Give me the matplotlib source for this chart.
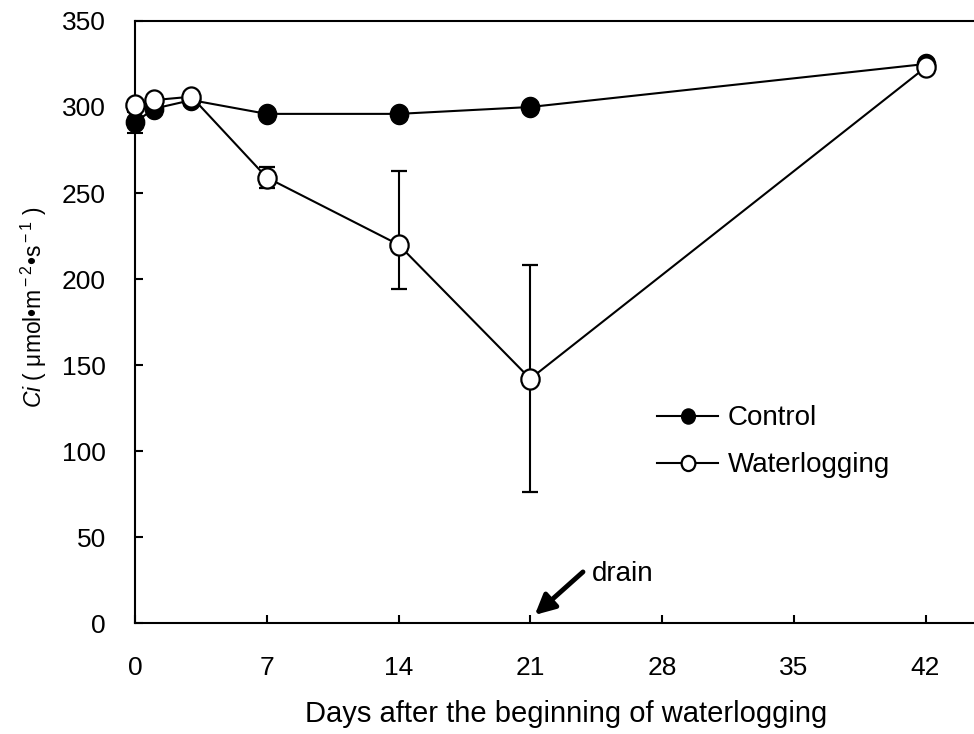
#!/usr/bin/env python

import numpy as np
import matplotlib
matplotlib.use("Agg")
from matplotlib import pyplot as plt
from matplotlib.path import Path
from matplotlib.transforms import Affine2D

""" Ci over days of waterlogging """

days = [0, 1, 3, 7, 14, 21, 42]
control = [291, 299, 304, 296, 296, 300, 325]
control_err = [6, 3, 3, 2, 2, 2, 2]
water = [301, 304, 306, 259, 220, 142, 323]
water_err_lo = [3, 3, 3, 6, 26, 66, 2]
water_err_hi = [3, 3, 3, 6, 43, 66, 2]

xticks = [0, 7, 14, 21, 28, 35, 42]
yticks = [0, 50, 100, 150, 200, 250, 300, 350]

plt.rcParams['font.family'] = ['Liberation Sans', 'DejaVu Sans']
plt.rcParams['mathtext.fontset'] = 'custom'
plt.rcParams['mathtext.rm'] = 'Liberation Sans'
plt.rcParams['mathtext.it'] = 'Liberation Sans:italic'

# slightly tall circle like the original
oval = Path.unit_circle().transformed(Affine2D().scale(1.0, 1.1))

fig = plt.figure(figsize=(9.74, 7.34), dpi=100)
ax = fig.add_axes([0.1386, 0.1512, 0.8696, 0.8202])

c = ax.errorbar(days, control, yerr=control_err, color='black', lw=1.5,
                marker=oval, ms=14.5, mfc='black', mec='black',
                capsize=6, elinewidth=1.5, capthick=1.5, label='Control', zorder=3)
w = ax.errorbar(days, water, yerr=[water_err_lo, water_err_hi], color='black', lw=1.5,
                marker=oval, ms=14.5, mfc='white', mec='black', mew=1.6,
                capsize=6, elinewidth=1.5, capthick=1.5, label='Waterlogging', zorder=4)
for cont in (c, w):
    for art in cont.get_children():
        art.set_clip_on(False)

ax.set_xlim(0, 45)
ax.set_ylim(0, 350)
ax.set_xticks(xticks)
ax.set_yticks(yticks)
ax.tick_params(direction='in', length=6, width=1.5, labelsize=19)
ax.tick_params(axis='y', pad=21)
ax.tick_params(axis='x', pad=24)
for s in ax.spines.values():
    s.set_linewidth(1.5)

ax.set_xlabel('Days after the beginning of waterlogging', fontsize=21, labelpad=14)
ax.xaxis.label.set_x(0.509)
ax.set_ylabel(r'$\mathit{Ci}$ ( μmol•m$^{\rm -2}$•s$^{\rm -1}$ )', fontsize=16.5, labelpad=9)
ax.yaxis.label.set_y(0.525)

# drain arrow
ax.annotate('', xy=(21.24, 4.7), xytext=(23.8, 29.7),
            arrowprops=dict(arrowstyle='-|>,head_length=0.6,head_width=0.3',
                            mutation_scale=20, color='black', lw=3.5,
                            shrinkA=0, shrinkB=0))
ax.text(24.3, 28.5, 'drain', fontsize=20, va='center', ha='left')

h, l = ax.get_legend_handles_labels()
h = [x[0] for x in h]
leg = ax.legend(h, l, loc='upper left', bbox_to_anchor=(0.587, 0.403), frameon=False,
                fontsize=20, handlelength=2.2, labelspacing=0.75, markerscale=0.75,
                handletextpad=0.35)

fig.savefig('out.png', dpi=100)
